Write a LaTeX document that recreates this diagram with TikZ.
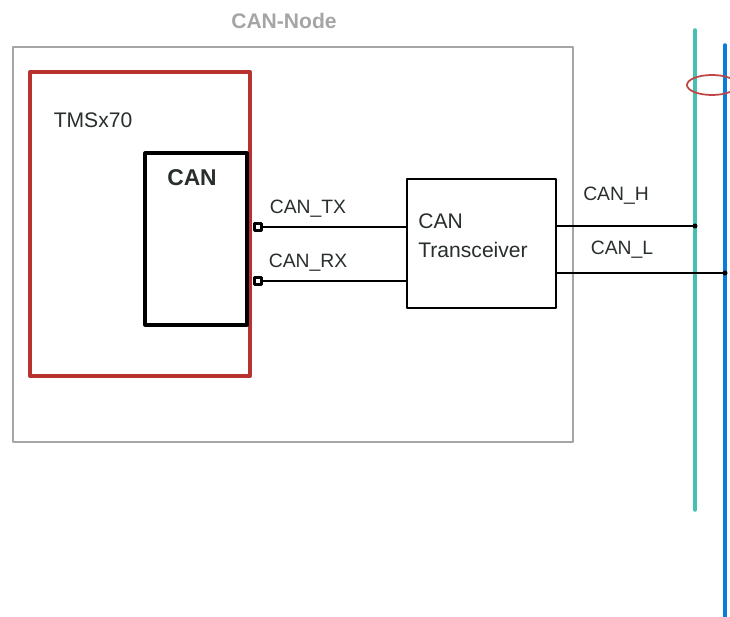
\documentclass[tikz,border=0pt]{standalone}
\usepackage{fontspec}
\setmainfont{Liberation Sans}
\usepackage{tikz}
\usetikzlibrary{calc}
\definecolor{nodegray}{RGB}{165,165,165}
\definecolor{chipred}{RGB}{185,50,50}
\definecolor{busteal}{RGB}{70,192,178}
\definecolor{busblue}{RGB}{10,125,220}
\definecolor{txtgray}{RGB}{40,45,45}
\tikzset{
  lbl/.style={font=\fontsize{11}{13}\selectfont, text=txtgray, inner sep=0pt},
  pin/.style={draw=black, fill=white, line width=1.5pt, minimum size=0.15cm, inner sep=0pt},
  dot/.style={circle, fill=black, inner sep=0pt, minimum size=0.1cm}
}
\begin{document}
\begin{tikzpicture}[x=0.02cm, y=-0.02cm, line join=round, line cap=round]
\useasboundingbox (0,0) rectangle (730,617);
\coordinate (N1) at (13,47);
\coordinate (N2) at (573,442);
\coordinate (R1) at (30,72);
\coordinate (R2) at (250,376);
\coordinate (C1) at (145,153);
\coordinate (C2) at (247,325);
\coordinate (HT) at (695,30);
\coordinate (HB) at (695,510);
\coordinate (LT) at (725,45);
\coordinate (LB) at (725,617);
\coordinate (HJ) at (695,226);
\coordinate (LJ) at (725,273);
% boxes
\draw[nodegray, line width=1.1pt] (N1) rectangle (N2);
\draw[chipred, line width=2.3pt] (R1) rectangle (R2);
\draw[black, line width=1.8pt] (C1) rectangle (C2);
\node[draw, line width=0.8pt, minimum width=2.98cm, minimum height=2.58cm, inner sep=0pt] (trx) at (481.5,243.5) {};
% bus wires
\draw[busteal, line width=2pt] (HT) -- (HB);
\draw[busblue, line width=2pt] (LT) -- (LB);
\draw[chipred!90!white, line width=1pt] (712,85) ellipse (25 and 10);
% pins and signal lines
\node[pin] (tx) at (258,227) {};
\node[pin] (rx) at (258,281) {};
\draw[line width=0.8pt] (tx.east) -- (tx -| trx.west);
\draw[line width=0.8pt] (rx.east) -- (rx -| trx.west);
\draw[line width=0.8pt] (HJ -| trx.east) -- (HJ);
\draw[line width=0.8pt] (LJ -| trx.east) -- (LJ);
\node[dot] at (HJ) {};
\node[dot] at (LJ) {};
% texts
\node[font=\bfseries\fontsize{12}{14}\selectfont, text=nodegray, inner sep=0pt] at (284,21) {CAN-Node};
\node[lbl, font=\fontsize{12}{14}\selectfont] at (93,120) {TMSx70};
\node[font=\bfseries\fontsize{13}{15}\selectfont, text=txtgray, inner sep=0pt] at (192,178) {CAN};
\node[lbl] at (308,209) {CAN\_TX};
\node[lbl] at (308,263) {CAN\_RX};
\node[lbl, font=\fontsize{12}{14}\selectfont, anchor=west] at (418,221) {CAN};
\node[lbl, font=\fontsize{12}{14}\selectfont, anchor=west] at (418,250) {Transceiver};
\node[lbl] at (616,196) {CAN\_H};
\node[lbl] at (622,250) {CAN\_L};
\end{tikzpicture}
\end{document}
